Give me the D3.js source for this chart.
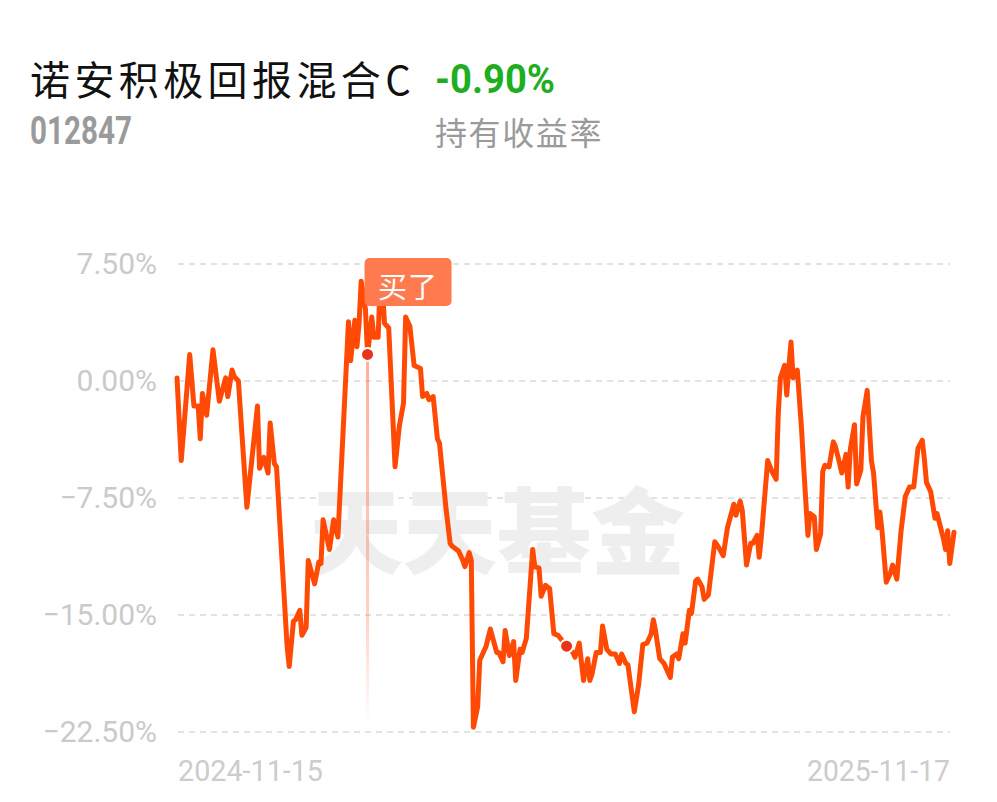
<!DOCTYPE html>
<html>
<head>
<meta charset="utf-8">
<script src="https://cdn.jsdelivr.net/npm/d3@7"></script>
<style>
  html, body { margin: 0; padding: 0; background: #ffffff; }
  svg { display: block; }
</style>
</head>
<body>
<svg id="chart" width="997" height="802"></svg>
<script>
// ---------------- data ----------------
const fundName = "诺安积极回报混合C";
const fundCode = "012847";
const holdReturn = "-0.90%";
const holdReturnLabel = "持有收益率";
const watermarkText = "天天基金";
const buyLabel = "买了";
const startDate = "2024-11-15";
const endDate = "2025-11-17";
const xTickLabels = ["2024-11-15", "2025-11-17"];
const yTicks = [7.5, 0, -7.5, -15, -22.5];

// days since start date
const dayOffsets = [
  0, 2, 6, 8, 10, 11, 12, 14, 17, 20, 23, 24, 26, 27, 29, 33, 38, 39, 41, 43,
  44, 46, 47, 52, 53, 55, 56, 58, 59, 61, 62, 65, 67, 68, 69, 72, 74, 76, 81, 82,
  84, 85, 86, 87, 89, 90, 92, 93, 95, 96, 97, 98, 100, 103, 105, 107, 108, 110, 112, 115,
  116, 118, 119, 121, 123, 124, 127, 129, 130, 133, 135, 136, 138, 139, 140, 142, 143, 146, 148, 151,
  152, 154, 155, 157, 159, 160, 162, 163, 165, 168, 169, 171, 172, 174, 176, 178, 180, 184, 187, 188,
  190, 192, 194, 195, 196, 198, 200, 201, 203, 205, 207, 209, 210, 212, 213, 216, 218, 220, 222, 224,
  225, 226, 228, 230, 233, 234, 236, 237, 239, 240, 242, 243, 245, 246, 248, 249, 251, 254, 256, 258,
  260, 263, 264, 266, 267, 269, 271, 272, 274, 275, 276, 279, 281, 283, 284, 285, 287, 288, 289, 290,
  291, 293, 295, 296, 298, 299, 301, 302, 304, 305, 306, 308, 310, 311, 313, 314, 316, 317, 318, 320,
  321, 323, 324, 326, 328, 329, 331, 332, 333, 335, 337, 338, 340, 342, 344, 346, 348, 350, 352, 353,
  354, 356, 358, 359, 362, 363, 364, 365, 367
];
// holding return (%)
const returns = [
  0.2, -5.1, 1.7, -1.6, -1.6, -3.7, -0.8, -2.2, 2.0, -1.3, 0.2, -1.0, 0.7, 0.3, 0.0, -8.1, -1.6, -5.6, -4.9, -5.9,
  -2.7, -5.3, -5.5, -17.0, -18.3, -15.4, -15.3, -14.7, -16.3, -15.8, -11.5, -13.0, -11.6, -11.7, -8.9, -10.8, -8.9, -10.0, 3.8, 1.3,
  3.9, 2.2, 3.7, 6.4, 4.6, 1.7, 4.1, 2.8, 2.8, 6.4, 6.1, 3.7, 3.4, -5.5, -2.9, -1.4, 4.1, 3.5, 1.0, 0.8,
  -1.0, -0.8, -1.2, -1.0, -3.7, -4.0, -8.1, -10.4, -10.6, -10.9, -11.5, -11.9, -11.0, -11.5, -22.2, -20.9, -17.9, -17.0, -15.9, -17.4,
  -17.4, -18.0, -16.0, -17.6, -16.7, -19.2, -17.2, -17.4, -16.5, -10.8, -11.9, -12.0, -13.8, -13.1, -13.3, -16.2, -16.3, -17.0, -17.4, -17.7,
  -16.8, -19.2, -17.8, -19.2, -18.8, -17.4, -17.4, -15.7, -17.2, -17.5, -17.5, -18.1, -17.5, -18.1, -18.2, -21.2, -19.5, -16.9, -16.8, -16.2,
  -15.3, -16.0, -17.8, -18.1, -19.0, -17.7, -17.5, -17.8, -16.2, -16.8, -14.7, -14.9, -12.8, -12.7, -13.2, -14.0, -13.7, -10.3, -10.7, -11.2,
  -9.4, -7.9, -8.6, -7.7, -8.3, -11.8, -10.4, -10.4, -9.9, -11.3, -10.0, -5.1, -5.8, -6.3, -2.1, 0.2, 1.0, -0.9, 0.9, 2.5,
  0.2, 0.7, -3.1, -5.5, -9.9, -8.5, -8.7, -10.8, -9.8, -5.8, -5.4, -5.5, -3.9, -4.2, -5.3, -5.9, -4.7, -6.8, -4.4, -2.8,
  -6.6, -5.7, -2.3, -0.6, -5.1, -5.9, -9.4, -8.4, -9.6, -12.9, -12.3, -11.8, -12.7, -9.6, -7.4, -6.8, -6.8, -4.3, -3.8, -5.0,
  -6.5, -7.1, -8.8, -8.5, -10.1, -10.8, -9.6, -11.7, -9.7
];
const buyDay = 90;      // buy marker
const markDays = [184]; // other marker dot

// ---------------- chart ----------------
const parse = d3.timeParse("%Y-%m-%d");
const t0 = parse(startDate);
const t1 = parse(endDate);
const dayToDate = d => d3.timeDay.offset(t0, d);
const series = dayOffsets.map((d, i) => ({ date: dayToDate(d), day: d, v: returns[i] }));

const svg = d3.select("#chart");
const plot = { left: 177, right: 954, top: 264, bottom: 732 };

const x = d3.scaleTime().domain([t0, t1]).range([plot.left, plot.right]);
const y = d3.scaleLinear().domain([-22.5, 7.5]).range([plot.bottom, plot.top]);

// header
svg.append("text").attr("x", 30).attr("y", 95)
  .style("font-family", "'Noto Sans CJK SC', 'Noto Sans', sans-serif").style("font-weight", 400)
  .style("font-size", "40px").style("letter-spacing", "4.4px").attr("fill", "#111")
  .text(fundName);
svg.append("text").attr("x", 435).attr("y", 93)
  .style("font-family", "Roboto, 'Noto Sans', sans-serif").style("font-weight", 700)
  .style("font-size", "41px").attr("fill", "#1fae1f")
  .attr("textLength", 120).attr("lengthAdjust", "spacingAndGlyphs")
  .text(holdReturn);
svg.append("text").attr("x", 30).attr("y", 144)
  .style("font-family", "Roboto, 'Noto Sans', sans-serif").style("font-weight", 700)
  .style("font-size", "39px").attr("fill", "#9a9a9a")
  .attr("textLength", 102).attr("lengthAdjust", "spacingAndGlyphs")
  .text(fundCode);
svg.append("text").attr("x", 435).attr("y", 145)
  .style("font-family", "'Noto Sans CJK SC', sans-serif")
  .style("font-size", "32px").style("letter-spacing", "1.6px").attr("fill", "#9a9a9a")
  .text(holdReturnLabel);

// grid
const grid = svg.append("g");
grid.selectAll("line").data(yTicks).join("line")
  .attr("x1", plot.left + 1).attr("x2", 950)
  .attr("y1", d => y(d)).attr("y2", d => y(d))
  .attr("stroke", "#e3e3e3").attr("stroke-width", 2).attr("stroke-dasharray", "6,5");

// y axis labels
const yAxis = d3.axisLeft(y).tickValues(yTicks).tickSize(0).tickPadding(0)
  .tickFormat(d => d3.format(".2f")(d) + "%");
const ya = svg.append("g").attr("transform", "translate(157,0)").call(yAxis);
ya.select(".domain").remove();
ya.selectAll("text")
  .style("font-family", "Roboto, 'Noto Sans', sans-serif").style("font-size", "30px")
  .attr("fill", "#cacaca");

// x axis labels (only end dates)
const xa = svg.append("g");
xa.append("text").attr("x", 178).attr("y", 781)
  .style("font-family", "Roboto, sans-serif").style("font-size", "29px").attr("fill", "#cccccc")
  .attr("textLength", 145).attr("lengthAdjust", "spacingAndGlyphs")
  .text(xTickLabels[0]);
xa.append("text").attr("x", 950).attr("y", 781).attr("text-anchor", "end")
  .style("font-family", "Roboto, sans-serif").style("font-size", "29px").attr("fill", "#cccccc")
  .attr("textLength", 143).attr("lengthAdjust", "spacingAndGlyphs")
  .text(xTickLabels[1]);

// watermark
svg.append("text").attr("x", 497).attr("y", 567).attr("text-anchor", "middle")
  .style("font-family", "'Noto Sans CJK SC', sans-serif").style("font-weight", 900)
  .style("font-size", "94px").attr("fill", "#eeeeee")
  .text(watermarkText);

// buy vertical line
const buyPt = series.find(d => d.day === buyDay);
const defs = svg.append("defs");
const grad = defs.append("linearGradient").attr("id", "buyGrad")
  .attr("x1", 0).attr("y1", 0).attr("x2", 0).attr("y2", 1);
grad.append("stop").attr("offset", "0%").attr("stop-color", "#ff7a55").attr("stop-opacity", 0.6);
grad.append("stop").attr("offset", "70%").attr("stop-color", "#ff7a55").attr("stop-opacity", 0.35);
grad.append("stop").attr("offset", "100%").attr("stop-color", "#ff7a55").attr("stop-opacity", 0.0);
svg.append("rect")
  .attr("x", x(buyPt.date) - 1.5).attr("y", y(buyPt.v))
  .attr("width", 3).attr("height", y(-22.5) - 7 - y(buyPt.v))
  .attr("fill", "url(#buyGrad)");

// line
const line = d3.line().x(d => x(d.date)).y(d => y(d.v));
svg.append("path").datum(series)
  .attr("d", line).attr("fill", "none")
  .attr("stroke", "#ff4a05").attr("stroke-width", 5)
  .attr("stroke-linejoin", "round").attr("stroke-linecap", "round");

// dots
const dotPts = [buyPt].concat(markDays.map(md => series.find(d => d.day === md)));
svg.selectAll("circle.mark").data(dotPts).join("circle")
  .attr("class", "mark")
  .attr("cx", d => x(d.date)).attr("cy", d => y(d.v)).attr("r", 6.5)
  .attr("fill", "#e8321a").attr("stroke", "#ffffff").attr("stroke-width", 2);

// buy label
const bx = x(buyPt.date) - 3;
svg.append("rect").attr("x", bx).attr("y", 258).attr("width", 87).attr("height", 48)
  .attr("rx", 5).attr("fill", "#ff7b4f");
svg.append("text").attr("x", bx + 43.5).attr("y", 298).attr("text-anchor", "middle")
  .style("font-family", "'Noto Sans CJK SC', sans-serif").style("font-size", "29px")
  .style("letter-spacing", "1px")
  .attr("fill", "#ffffff").text(buyLabel);
</script>
</body>
</html>
